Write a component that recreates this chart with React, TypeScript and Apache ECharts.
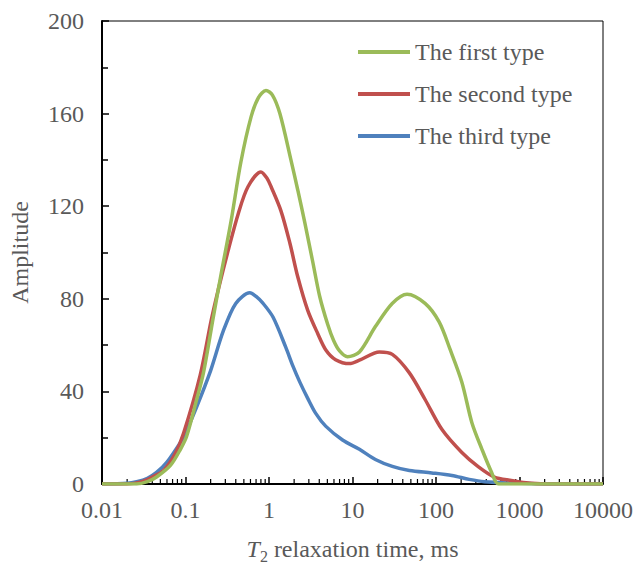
import React, { useEffect, useRef } from "react";
import * as echarts from "echarts";

const seriesNames = ["The first type", "The second type", "The third type"];
const seriesColors = ["#9BBB59", "#C0504D", "#4F81BD"];

// [T2 (ms), amplitude]
const firstType: number[][] = [
  [0.01, 0], [0.02, 0], [0.026, 0], [0.035, 1], [0.045, 3], [0.066, 8], [0.087, 15], [0.103, 20.5],
  [0.135, 36], [0.164, 48], [0.215, 72], [0.268, 91], [0.353, 114], [0.46, 139], [0.61, 158.6], [0.75, 167],
  [0.92, 170], [1.1, 168], [1.35, 160], [1.83, 140], [2.21, 127], [2.68, 113], [3.34, 96], [4.05, 81],
  [5.04, 69], [5.94, 62], [7.0, 57.5], [8.7, 55], [12.1, 57], [18.8, 68], [29.9, 78], [45, 82], [74, 78],
  [109, 70], [148, 58], [204, 44], [269, 26.5], [355, 15], [464, 5], [560, 0], [1000, 0], [10000, 0],
];
const secondType: number[][] = [
  [0.01, 0], [0.02, 0], [0.03, 1], [0.04, 3], [0.055, 6], [0.075, 13], [0.095, 22], [0.15, 47],
  [0.204, 71], [0.247, 84], [0.325, 101], [0.43, 117], [0.56, 128.4], [0.8, 134.8], [0.95, 132],
  [1.06, 128.4], [1.39, 118], [1.78, 104], [2.21, 89.5], [2.91, 75], [3.83, 65], [4.77, 58],
  [6.27, 53.7], [9.2, 52], [12.1, 53.5], [21, 57], [30, 56], [48, 48], [74, 36.5], [118, 23.5],
  [204, 13.6], [320, 7.5], [500, 3], [795, 1.5], [1200, 0.5], [2000, 0], [10000, 0],
];
const thirdType: number[][] = [
  [0.01, 0], [0.02, 0.3], [0.026, 1], [0.035, 2.5], [0.045, 5], [0.06, 9.5], [0.087, 18], [0.1, 22],
  [0.135, 33], [0.2, 49], [0.283, 66], [0.4, 78], [0.59, 82.6], [0.7, 81], [0.85, 78], [1.12, 72],
  [1.59, 59], [1.93, 51], [2.34, 44], [2.91, 37], [3.63, 30.5], [4.77, 25], [7.6, 19], [12.1, 15],
  [18.8, 10.6], [30, 7.6], [48, 5.8], [89, 4.8], [155, 3.7], [250, 2], [380, 1], [1000, 0.3], [2000, 0], [10000, 0],
];

const xTickLabels = ["0.01", "0.1", "1", "10", "100", "1000", "10000"];
const xMinorTicks: number[] = [
  0.02, 0.03, 0.04, 0.05, 0.06, 0.07, 0.08, 0.09,
  0.2, 0.3, 0.4, 0.5, 0.6, 0.7, 0.8, 0.9,
  2, 3, 4, 5, 6, 7, 8, 9,
  20, 30, 40, 50, 60, 70, 80, 90,
  200, 300, 400, 500, 600, 700, 800, 900,
  2000, 3000, 4000, 5000, 6000, 7000, 8000, 9000,
];

const FONT = "Liberation Serif";
const TEXT = "#595959";

export default function App() {
  const ref = useRef<HTMLDivElement>(null);
  useEffect(() => {
    if (!ref.current) return;
    const chart = echarts.init(ref.current, null, { renderer: "svg" });
    const data = [firstType, secondType, thirdType];
    chart.setOption({
      animation: false,
      backgroundColor: "#fff",
      textStyle: { fontFamily: FONT },
      grid: {
        left: 98, top: 21, right: 33, bottom: 85,
        show: true, borderColor: "#000", borderWidth: 1,
      },
      legend: {
        data: seriesNames,
        orient: "vertical",
        left: 358, top: 40, padding: 0,
        itemWidth: 52, itemHeight: 4, itemGap: 18,
        icon: "rect",
        textStyle: { fontFamily: FONT, fontSize: 24, color: TEXT, lineHeight: 24 },
      },
      xAxis: {
        type: "log", logBase: 10, min: 0.01, max: 10000, splitNumber: 6,
        axisLine: { lineStyle: { color: "#000", width: 2 } },
        axisTick: { inside: true, length: 7, lineStyle: { color: "#000", width: 1.5 } },
        splitLine: { show: false },
        axisLabel: {
          margin: 14, fontFamily: FONT, fontSize: 24, color: TEXT,
          formatter: (v: number) => xTickLabels[Math.round(Math.log10(v)) + 2] ?? "",
        },
        name: "{i|T}{s|2}{n| relaxation time, ms}",
        nameLocation: "middle", nameGap: 50,
        nameTextStyle: {
          fontFamily: FONT, color: TEXT,
          rich: {
            i: { fontFamily: FONT, fontSize: 24, fontStyle: "italic", color: TEXT, lineHeight: 30 },
            s: { fontFamily: FONT, fontSize: 16, color: TEXT, lineHeight: 16, verticalAlign: "bottom" },
            n: { fontFamily: FONT, fontSize: 24, color: TEXT, lineHeight: 30 },
          },
        },
      },
      yAxis: {
        type: "value", min: 0, max: 200, interval: 40,
        axisLine: { show: true, lineStyle: { color: "#000", width: 2 } },
        axisTick: { show: true, inside: true, length: 7, lineStyle: { color: "#000", width: 1.5 } },
        minorTick: { show: true, splitNumber: 2, length: 6, lineStyle: { color: "#000", width: 1.5 } },
        splitLine: { show: false },
        axisLabel: { margin: 18, fontFamily: FONT, fontSize: 24, color: TEXT },
        name: "Amplitude", nameLocation: "middle", nameGap: 70,
        nameTextStyle: { fontFamily: FONT, fontSize: 24, color: TEXT },
      },
      series: [
        ...seriesNames.map((name, i) => ({
          name, type: "line", data: data[i], smooth: 0.3, showSymbol: false, symbol: "none",
          color: seriesColors[i],
          lineStyle: { width: 3.5, color: seriesColors[i] },
          z: 5 - i,
        })),
        {
          type: "custom",
          name: "minorTicks",
          silent: true,
          data: xMinorTicks.map((t) => [t, 0]),
          z: 1,
          renderItem: (_params: any, api: any) => {
            const p = api.coord([api.value(0), 0]);
            return {
              type: "line",
              shape: { x1: p[0], y1: p[1], x2: p[0], y2: p[1] - 5 },
              style: { stroke: "#000", lineWidth: 1.2 },
            };
          },
        },
      ],
    });
    return () => chart.dispose();
  }, []);
  return <div ref={ref} style={{ position: "fixed", left: 0, top: 0, width: 636, height: 569 }} />;
}
